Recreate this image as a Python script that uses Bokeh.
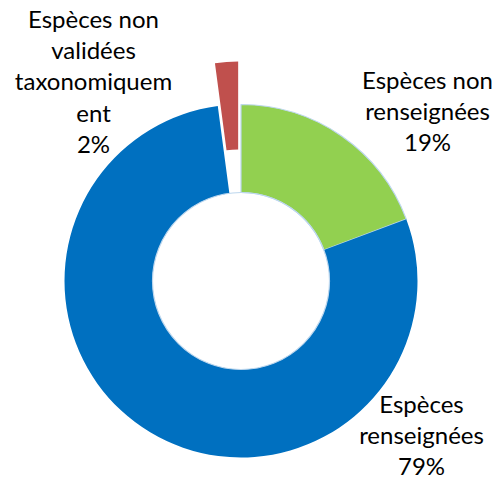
import math
from bokeh.plotting import figure
from bokeh.embed import file_html
from bokeh.resources import INLINE
from bokeh.models import ColumnDataSource
from bokeh.core.properties import value

# ---- data ----
categories = ["Espèces non renseignées", "Espèces renseignées",
              "Espèces non validées taxonomiquement"]
values = [19.3, 78.6, 2.1]
label_lines = [["Espèces non", "renseignées"],
               ["Espèces", "renseignées"],
               ["Espèces non", "validées", "taxonomiquem", "ent"]]
colors = ["#92D050", "#0070C0", "#C0504D"]

# ---- layout (pixels) ----
W, H = 496, 482
CX, CY = 240.5, 201.5
R_OUT, R_IN = 176.5, 88.5
explode = [0, 0, 43]
label_anchor = [(427, 403), (421, 79), (93, 464)]  # centre x, first line y
LINE_H = 31.2
FONT = "Lato"
FONT_SIZE = "24px"

total = sum(values)
starts, ends, xs, ys = [], [], [], []
cum = 0.0
for v, e in zip(values, explode):
    a0 = math.pi / 2 - 2 * math.pi * cum / total
    cum += v
    a1 = math.pi / 2 - 2 * math.pi * cum / total
    mid = (a0 + a1) / 2
    starts.append(a0)
    ends.append(a1)
    xs.append(CX + e * math.cos(mid))
    ys.append(CY + e * math.sin(mid))

p = figure(width=W, height=H, x_range=(0, W), y_range=(0, H),
           output_backend="svg", toolbar_location=None, min_border=0)
p.axis.visible = False
p.grid.visible = False
p.outline_line_color = None
p.background_fill_color = "white"

line_cols = ["#BDD7EE", None, None]
for i in range(len(values)):
    p.annular_wedge(x=xs[i], y=ys[i], inner_radius=R_IN, outer_radius=R_OUT,
                    start_angle=starts[i], end_angle=ends[i], direction="clock",
                    fill_color=colors[i], line_color=line_cols[i], line_width=1.2)

# light ring around the hole
p.circle(x=[CX], y=[CY], radius=R_IN, fill_color=None, line_color="#BDD7EE", line_width=1.2)

tx, ty, tt = [], [], []
for i, v in enumerate(values):
    lines = label_lines[i] + [f"{round(v)}%"]
    ax, ay = label_anchor[i]
    for k, t in enumerate(lines):
        tx.append(ax)
        ty.append(ay - k * LINE_H)
        tt.append(t)

src = ColumnDataSource(dict(x=tx, y=ty, text=tt))
p.text(x="x", y="y", text="text", source=src, text_align="center",
       text_baseline="alphabetic", text_font=value(FONT),
       text_font_size=value(FONT_SIZE), text_color="black")

open("out.html", "w").write(file_html(p, INLINE))
